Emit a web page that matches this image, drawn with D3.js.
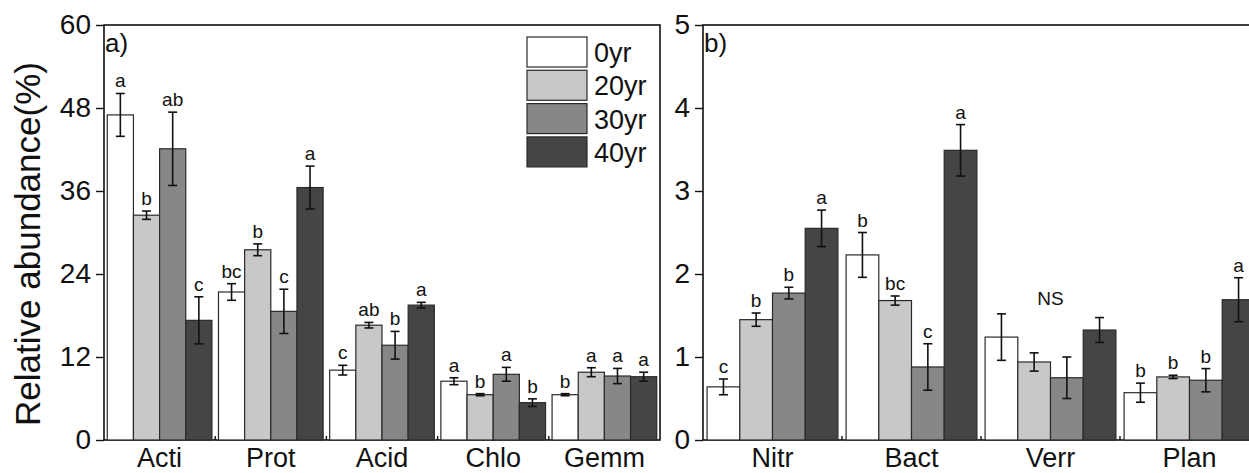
<!DOCTYPE html>
<html>
<head>
<meta charset="utf-8">
<script src="https://cdn.jsdelivr.net/npm/d3@7"></script>
<style>
  body { margin: 0; background: #fff; }
  svg { display: block; font-family: "Liberation Sans", Arial, sans-serif; }
</style>
</head>
<body>
<svg id="chart" width="1249" height="473"></svg>
<script>
const years = ["0yr", "20yr", "30yr", "40yr"];
const yearColors = ["#ffffff", "#c8c8c8", "#878787", "#454545"];

// panel a
const phylaA = ["Acti", "Prot", "Acid", "Chlo", "Gemm"];
const meansA = [
  [47.0, 32.5, 42.1, 17.3],
  [21.4, 27.5, 18.6, 36.5],
  [10.1, 16.6, 13.7, 19.5],
  [8.5, 6.55, 9.5, 5.4],
  [6.55, 9.8, 9.25, 9.15]
];
const errsA = [
  [3.1, 0.6, 5.3, 3.4],
  [1.2, 0.85, 3.2, 3.1],
  [0.7, 0.4, 2.0, 0.4],
  [0.5, 0.15, 1.0, 0.55],
  [0.15, 0.65, 1.1, 0.65]
];
const lettersA = [
  ["a", "b", "ab", "c"],
  ["bc", "b", "c", "a"],
  ["c", "ab", "b", "a"],
  ["a", "b", "a", "b"],
  ["b", "a", "a", "a"]
];
const ticksA = [0, 12, 24, 36, 48, 60];

// panel b
const phylaB = ["Nitr", "Bact", "Verr", "Plan"];
const meansB = [
  [0.64, 1.45, 1.77, 2.55],
  [2.23, 1.68, 0.88, 3.49],
  [1.24, 0.94, 0.75, 1.325],
  [0.57, 0.76, 0.72, 1.69]
];
const errsB = [
  [0.095, 0.08, 0.07, 0.22],
  [0.27, 0.055, 0.28, 0.31],
  [0.28, 0.11, 0.25, 0.15],
  [0.115, 0.02, 0.14, 0.265]
];
const lettersB = [
  ["c", "b", "b", "a"],
  ["b", "bc", "c", "a"],
  ["", "", "", ""],
  ["b", "b", "b", "a"]
];
const groupNotesB = ["", "", "NS", ""];
const ticksB = [0, 1, 2, 3, 4, 5];

const svg = d3.select("#chart");
const plotTop = 25, plotBottom = 440;

function drawPanel(opts) {
  const { x0, x1, cats, means, errs, letters, notes, ticks, yMax, tag } = opts;
  const g = svg.append("g");
  const x = d3.scaleBand().domain(cats).range([x0, x1]).paddingInner(0).paddingOuter(0);
  const xs = d3.scaleBand().domain(years).range([0, x.bandwidth()]).paddingInner(0).paddingOuter(0.125);
  const y = d3.scaleLinear().domain([0, yMax]).range([plotBottom, plotTop]);

  // frame
  g.append("rect")
    .attr("x", x0).attr("y", plotTop)
    .attr("width", x1 - x0).attr("height", plotBottom - plotTop)
    .attr("fill", "none").attr("stroke", "#111").attr("stroke-width", 1.6);

  // y axis
  const ya = g.append("g").attr("transform", `translate(${x0},0)`)
    .call(d3.axisLeft(y).tickValues(ticks).tickFormat(d3.format("d"))
      .tickSize(8).tickSizeOuter(0).tickPadding(5));
  ya.select(".domain").remove();
  ya.selectAll("line").attr("stroke", "#111").attr("stroke-width", 1.4);
  ya.selectAll("text").attr("font-size", 28).attr("fill", "#111")
    .attr("font-family", "Liberation Sans, Arial, sans-serif");

  // small ticks between categories
  g.selectAll(".sep").data(cats.slice(1)).join("line")
    .attr("x1", d => x(d)).attr("x2", d => x(d))
    .attr("y1", plotBottom).attr("y2", plotBottom - 4)
    .attr("stroke", "#111").attr("stroke-width", 1.4);

  // category labels
  g.selectAll(".cat").data(cats).join("text")
    .attr("x", d => x(d) + x.bandwidth() / 2)
    .attr("y", 467)
    .attr("text-anchor", "middle")
    .attr("font-size", 27)
    .attr("fill", "#111")
    .text(d => d);

  const rows = [];
  cats.forEach((c, i) => years.forEach((yr, j) => rows.push({
    cat: c, yr, j, mean: means[i][j], err: errs[i][j], letter: letters[i][j]
  })));

  const bars = g.append("g");
  bars.selectAll("rect").data(rows).join("rect")
    .attr("x", d => x(d.cat) + xs(d.yr))
    .attr("y", d => y(d.mean))
    .attr("width", xs.bandwidth())
    .attr("height", d => plotBottom - y(d.mean))
    .attr("fill", d => yearColors[d.j])
    .attr("stroke", "#2a2a2a").attr("stroke-width", 1.2);

  const eb = g.append("g").attr("stroke", "#111").attr("stroke-width", 1.6);
  const cx = d => x(d.cat) + xs(d.yr) + xs.bandwidth() / 2;
  eb.selectAll(".v").data(rows).join("line")
    .attr("x1", cx).attr("x2", cx)
    .attr("y1", d => y(d.mean + d.err)).attr("y2", d => y(d.mean - d.err));
  eb.selectAll(".t").data(rows).join("line")
    .attr("x1", d => cx(d) - 4.5).attr("x2", d => cx(d) + 4.5)
    .attr("y1", d => y(d.mean + d.err)).attr("y2", d => y(d.mean + d.err));
  eb.selectAll(".b").data(rows).join("line")
    .attr("x1", d => cx(d) - 4.5).attr("x2", d => cx(d) + 4.5)
    .attr("y1", d => y(d.mean - d.err)).attr("y2", d => y(d.mean - d.err));

  g.selectAll(".let").data(rows.filter(d => d.letter)).join("text")
    .attr("x", cx)
    .attr("y", d => y(d.mean + d.err) - 6)
    .attr("text-anchor", "middle")
    .attr("font-size", 19)
    .attr("fill", "#111")
    .text(d => d.letter);

  if (notes) {
    cats.forEach((c, i) => {
      if (!notes[i]) return;
      const hi = d3.max(means[i].map((m, j) => m + errs[i][j]));
      g.append("text")
        .attr("x", x(c) + x.bandwidth() / 2)
        .attr("y", y(hi) - 9)
        .attr("text-anchor", "middle")
        .attr("font-size", 19)
        .attr("fill", "#111")
        .text(notes[i]);
    });
  }

  g.append("text")
    .attr("x", x0 + 1).attr("y", plotTop + 27)
    .attr("font-size", 26).attr("fill", "#111")
    .text(tag);
}

drawPanel({ x0: 104, x1: 660, cats: phylaA, means: meansA, errs: errsA,
  letters: lettersA, ticks: ticksA, yMax: 60, tag: "a)" });
drawPanel({ x0: 703, x1: 1259, cats: phylaB, means: meansB, errs: errsB,
  letters: lettersB, notes: groupNotesB, ticks: ticksB, yMax: 5, tag: "b)" });

// y title
svg.append("text")
  .attr("transform", `translate(40,244) rotate(-90)`)
  .attr("text-anchor", "middle")
  .attr("font-size", 35)
  .attr("fill", "#111")
  .text("Relative abundance(%)");

// legend
const legend = svg.append("g").attr("transform", "translate(527,37)");
const leg = legend.selectAll("g").data(years).join("g")
  .attr("transform", (d, i) => `translate(0,${i * 33.3})`);
leg.append("rect")
  .attr("width", 60).attr("height", 30)
  .attr("fill", (d, i) => yearColors[i])
  .attr("stroke", "#2a2a2a").attr("stroke-width", 1.2);
leg.append("text")
  .attr("x", 67).attr("y", 25)
  .attr("font-size", 27)
  .attr("fill", "#111")
  .text(d => d);
</script>
</body>
</html>
